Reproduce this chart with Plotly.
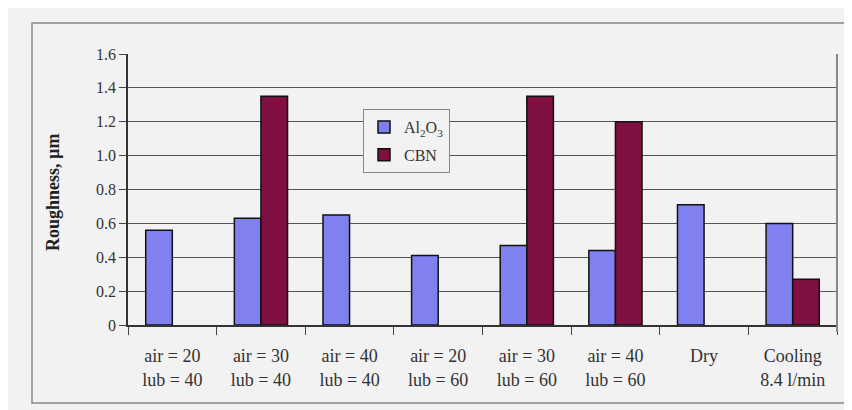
import plotly.graph_objects as go

categories = ["air = 20<br>lub = 40", "air = 30<br>lub = 40", "air = 40<br>lub = 40",
              "air = 20<br>lub = 60", "air = 30<br>lub = 60", "air = 40<br>lub = 60",
              "Dry", "Cooling<br>8.4 l/min"]
al2o3 = [0.56, 0.63, 0.65, 0.41, 0.47, 0.44, 0.71, 0.60]
cbn = [None, 1.35, None, None, 1.35, 1.20, None, 0.27]
y_ticks = [0, 0.2, 0.4, 0.6, 0.8, 1.0, 1.2, 1.4, 1.6]
y_tick_labels = ["0", "0.2", "0.4", "0.6", "0.8", "1.0", "1.2", "1.4", "1.6"]

# page body has an 8px default margin; figure is sized so the page matches
OFF = 8
W, H = 852 - OFF, 410 - OFF
L, R, T, B = 128 - OFF, 15, 54 - OFF, 85
pw, ph = W - L - R, H - T - B

def px_x(x):
    return (x - OFF - L) / pw

def px_y(y):
    return (H - B - (y - OFF)) / ph

FONT = "Liberation Serif, Times New Roman, serif"
BG = "#f2f2f2"

fig = go.Figure()
fig.add_trace(go.Bar(x=categories, y=al2o3, name="Al<sub>2</sub>O<sub>3</sub>",
                     marker=dict(color="#8080f0", line=dict(color="#111111", width=1.5)),
                     legendgroup="a"))
fig.add_trace(go.Bar(x=categories, y=cbn, name="CBN",
                     marker=dict(color="#800f42", line=dict(color="#111111", width=1.5)),
                     legendgroup="b"))

fig.update_layout(
    width=W, height=H,
    margin=dict(l=L, r=R, t=T, b=B),
    paper_bgcolor=BG,
    plot_bgcolor="rgba(0,0,0,0)",
    barmode="group",
    bargap=0.4,
    bargroupgap=0,
    font=dict(family=FONT, color="#333333"),
    showlegend=True,
    legend=dict(x=px_x(363), y=px_y(109), xanchor="left", yanchor="top",
                bgcolor=BG, bordercolor="#888888", borderwidth=1,
                font=dict(family=FONT, size=16, color="#333333"),
                traceorder="grouped", tracegroupgap=4,
                itemwidth=30),
)

fig.update_xaxes(
    range=[-0.5, 7.5], type="category",
    showline=True, linecolor="#333333", linewidth=1.5,
    ticks="outside", tickson="boundaries", ticklen=8, tickcolor="#444444",
    tickfont=dict(family=FONT, size=18, color="#333333"),
    ticklabelstandoff=14,
    showgrid=False,
)
fig.update_yaxes(
    range=[0, 1.6], tickvals=y_ticks, ticktext=y_tick_labels,
    showline=True, linecolor="#333333", linewidth=1.5,
    ticks="outside", ticklen=7, tickcolor="#444444",
    tickfont=dict(family=FONT, size=16, color="#333333"),
    showgrid=True, gridcolor="#555555", gridwidth=1,
    zeroline=False,
)

# outer chart border
fig.add_shape(type="rect", xref="paper", yref="paper", layer="below",
              x0=px_x(32), x1=px_x(847), y0=px_y(403), y1=px_y(23),
              line=dict(color="#888888", width=1.5))
# right border of plot area
fig.add_shape(type="line", xref="paper", yref="paper",
              x0=1, x1=1, y0=px_y(332), y1=1,
              line=dict(color="#888888", width=2))

fig.add_annotation(x=px_x(53), y=px_y(193), xref="paper", yref="paper",
                   xanchor="center", yanchor="middle",
                   text="<b>Roughness, µm</b>", textangle=-90, showarrow=False,
                   font=dict(family=FONT, size=18, color="#222222"))

fig.write_html("out.html")
